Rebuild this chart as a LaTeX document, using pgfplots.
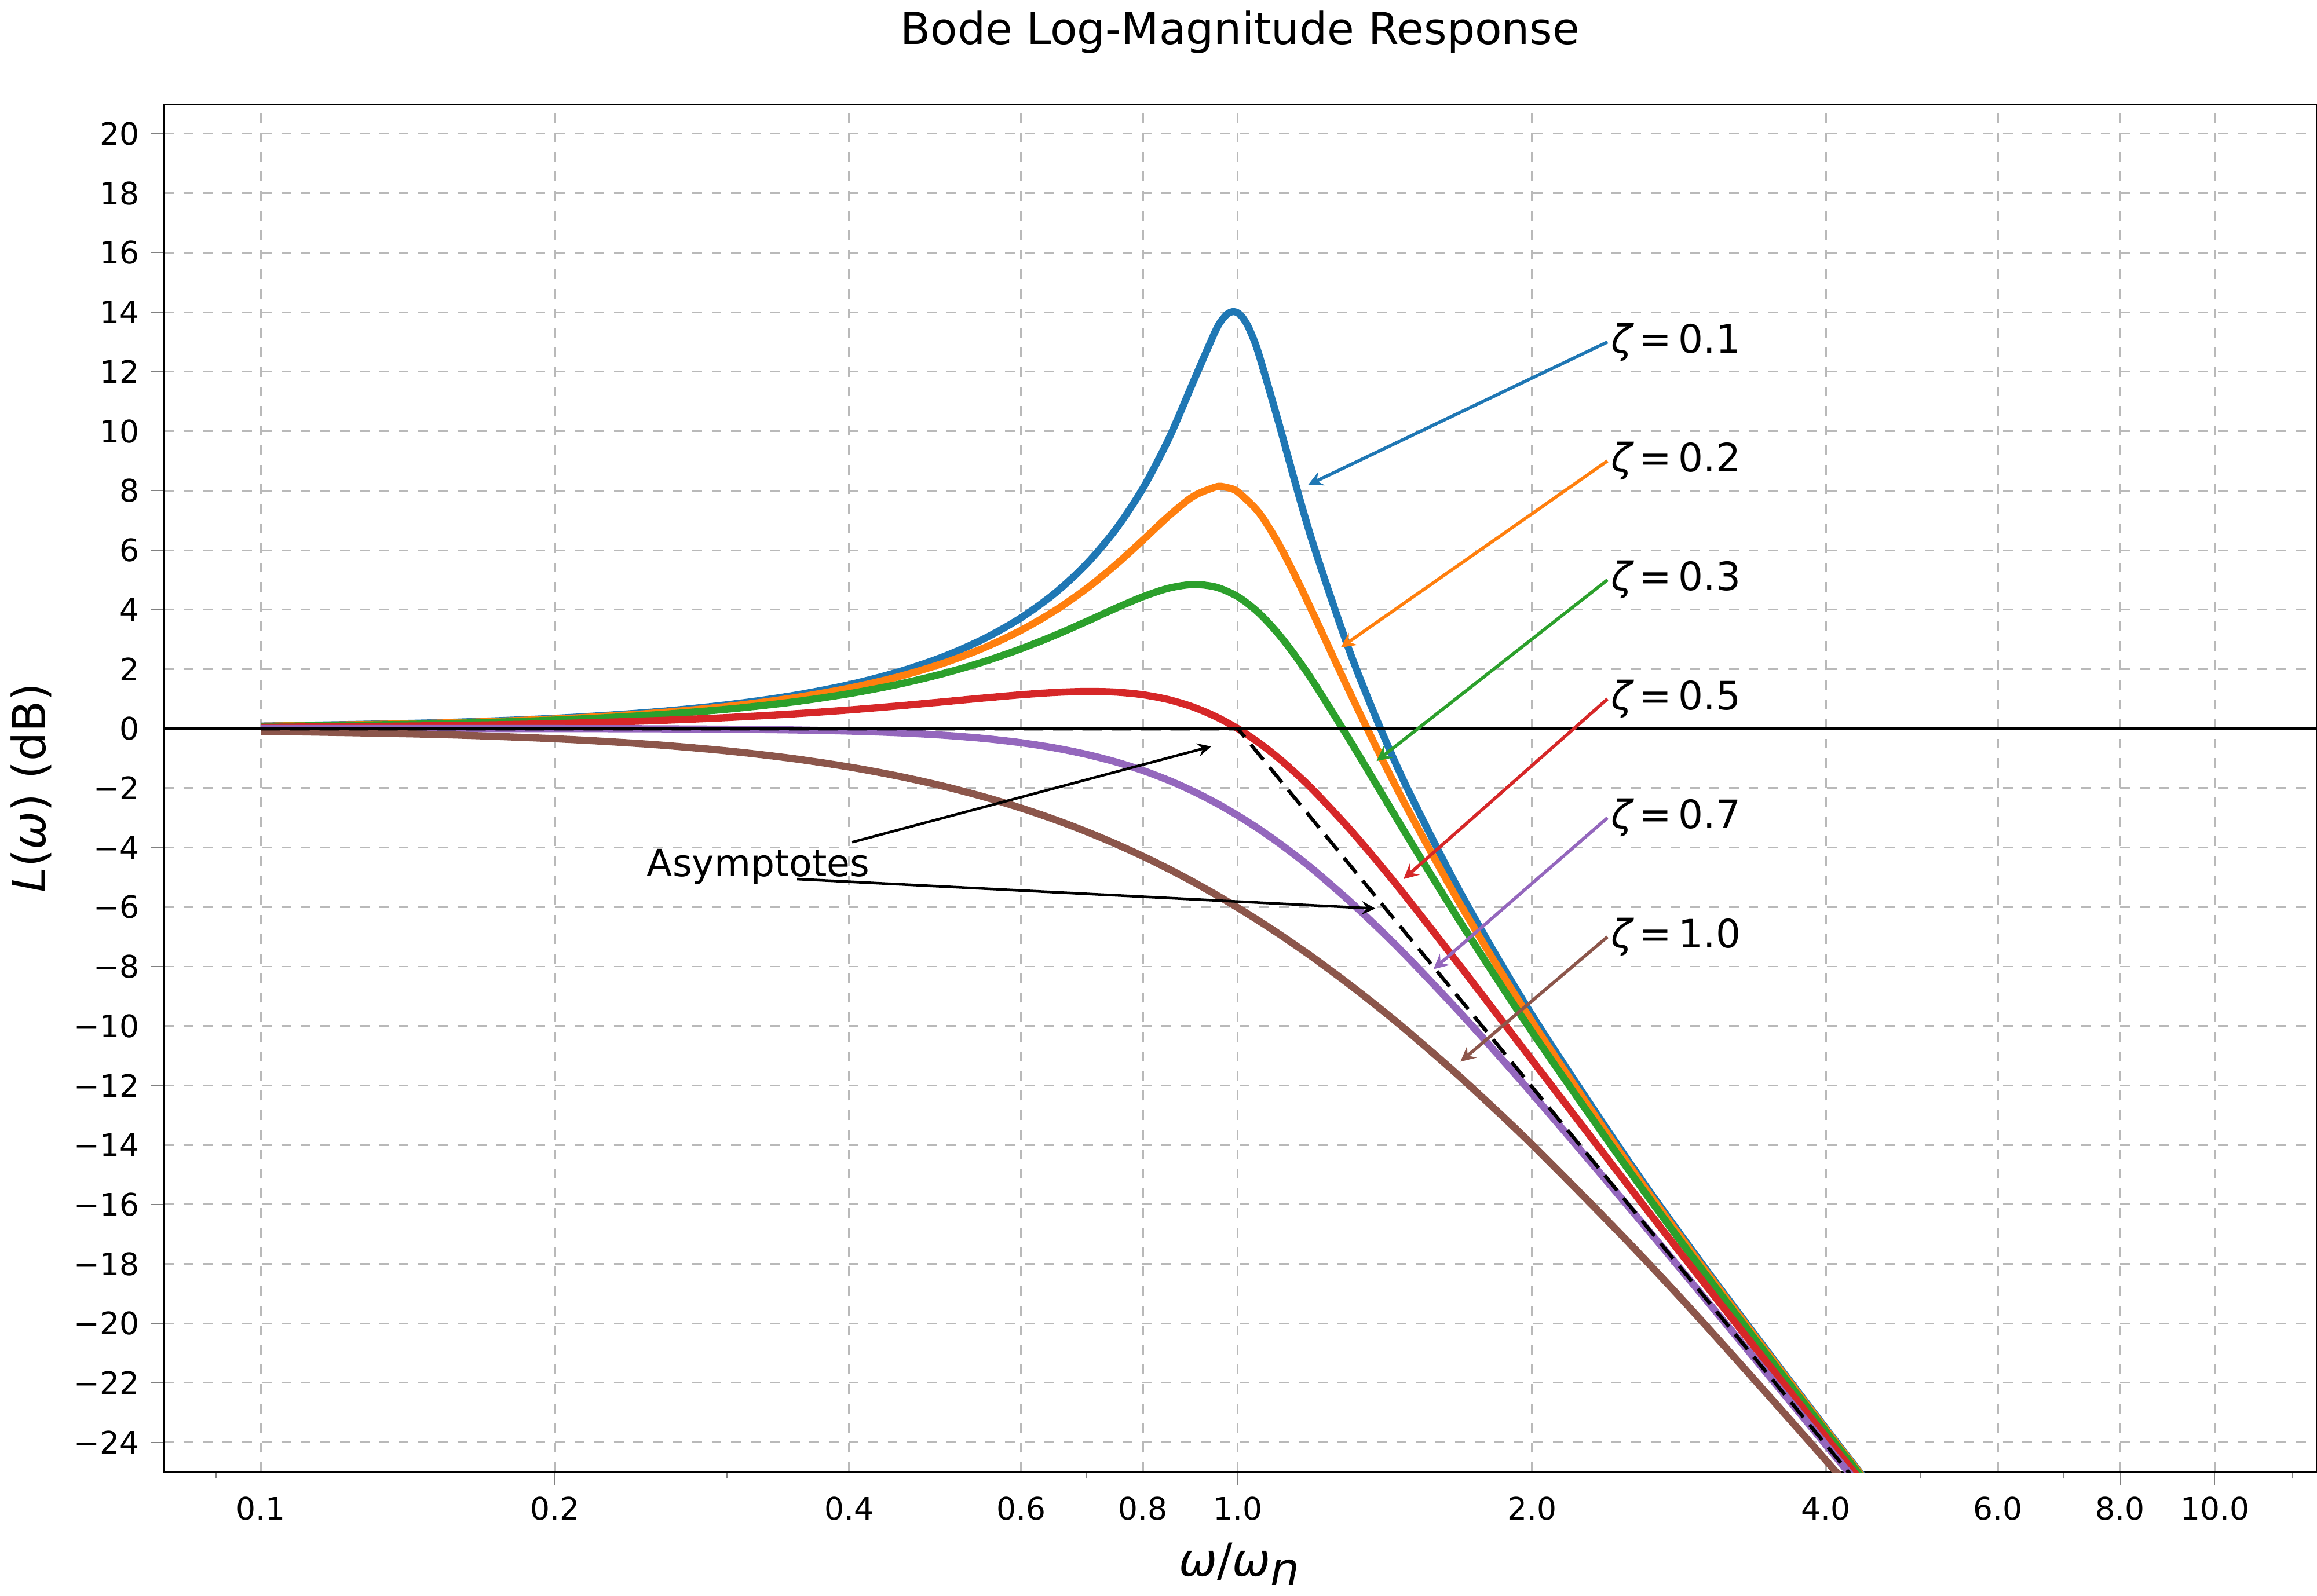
\documentclass[border=0pt]{standalone}
\usepackage{pgfplots}
\pgfplotsset{compat=1.18}
\usepackage{fontspec}
\setmainfont{DejaVu Sans}
\setsansfont{DejaVu Sans}
\definecolor{c1}{HTML}{1F77B4}
\definecolor{c2}{HTML}{FF7F0E}
\definecolor{c3}{HTML}{2CA02C}
\definecolor{c4}{HTML}{D62728}
\definecolor{c5}{HTML}{9467BD}
\definecolor{c6}{HTML}{8C564B}
\newcommand{\zl}[1]{{\itshape ζ}\,=\,#1}
\begin{document}
\begin{tikzpicture}
\begin{axis}[
  scale only axis, width=23.2cm, height=14.75cm,
  xmode=log, xmin=0.0796, xmax=12.7, ymin=-25, ymax=21,
  xtick={0.1,0.2,0.4,0.6,0.8,1,2,4,6,8,10},
  xticklabels={0.1,0.2,0.4,0.6,0.8,1.0,2.0,4.0,6.0,8.0,10.0},
  minor xtick={0.08,0.09,0.3,0.5,0.7,0.9,3,5,7,9,12},
  ytick={-24,-22,...,20},
  yticklabels={−24,−22,−20,−18,−16,−14,−12,−10,−8,−6,−4,−2,0,2,4,6,8,10,12,14,16,18,20},
  /pgf/number format/assume math mode=true,
  ticklabel style={font=\fontsize{9.5}{11}\selectfont},
  grid=major, grid style={dashed, gray!55, line width=0.5pt},
  major tick length=4pt, minor tick length=2pt,
  tick align=outside, tick pos=left,
  xlabel={{\itshape ω}/{\itshape ω}$_{\textit{n}}$}, ylabel={{\itshape L}({\itshape ω}) (dB)},
  label style={font=\fontsize{14}{17}\selectfont},
  title={Bode Log-Magnitude Response},
  title style={font=\fontsize{13.5}{16}\selectfont, yshift=6pt},
  every axis plot/.append style={line width=2.2pt, smooth},
]
\addplot[c1] coordinates {(0.1,0.0855)(0.15,0.194)(0.2,0.347)(0.25,0.548)(0.3,0.800)(0.35,1.107)(0.4,1.475)(0.45,1.911)(0.5,2.422)(0.55,3.022)(0.6,3.726)(0.65,4.554)(0.7,5.533)(0.75,6.698)(0.8,8.091)(0.85,9.750)(0.9,11.643)(0.95,13.410)(0.97,13.859)(0.98,13.981)(0.99,14.023)(1.0,13.979)(1.01,13.850)(1.02,13.640)(1.03,13.359)(1.05,12.627)(1.1,10.339)(1.15,8.044)(1.2,6.000)(1.3,2.647)(1.4,0.0)(1.5,-2.181)(1.7,-5.667)(2.0,-9.619)(2.5,-14.443)(3.0,-18.086)(4.0,-23.534)(5.0,-27.612)};
\addplot[c2] coordinates {(0.1,0.0802)(0.15,0.181)(0.2,0.325)(0.25,0.511)(0.3,0.744)(0.35,1.026)(0.4,1.359)(0.45,1.749)(0.5,2.201)(0.55,2.717)(0.6,3.305)(0.65,3.967)(0.7,4.704)(0.75,5.507)(0.8,6.345)(0.85,7.153)(0.9,7.806)(0.95,8.127)(0.97,8.124)(0.98,8.090)(1.0,7.959)(1.05,7.284)(1.1,6.240)(1.15,5.008)(1.2,3.726)(1.3,1.270)(1.4,-0.917)(1.5,-2.839)(1.7,-6.058)(2.0,-9.841)(2.5,-14.558)(3.0,-18.158)(4.0,-23.571)(5.0,-27.634)};
\addplot[c3] coordinates {(0.1,0.0714)(0.15,0.161)(0.2,0.287)(0.25,0.451)(0.3,0.652)(0.35,0.893)(0.4,1.174)(0.45,1.494)(0.5,1.854)(0.55,2.252)(0.6,2.683)(0.65,3.137)(0.7,3.600)(0.75,4.046)(0.8,4.437)(0.85,4.722)(0.9,4.845)(0.95,4.757)(1.0,4.437)(1.05,3.900)(1.1,3.190)(1.15,2.365)(1.2,1.475)(1.3,-0.352)(1.4,-2.114)(1.5,-3.752)(1.7,-6.640)(2.0,-10.187)(2.5,-14.744)(3.0,-18.276)(4.0,-23.632)(5.0,-27.672)};
\addplot[c4] coordinates {(0.1,0.0432)(0.15,0.0966)(0.2,0.170)(0.25,0.262)(0.3,0.371)(0.35,0.494)(0.4,0.627)(0.45,0.765)(0.5,0.902)(0.55,1.029)(0.6,1.137)(0.65,1.215)(0.7,1.249)(0.75,1.227)(0.8,1.137)(0.85,0.972)(0.9,0.726)(0.95,0.400)(1.0,0)(1.05,-0.465)(1.1,-0.983)(1.15,-1.543)(1.2,-2.131)(1.3,-3.357)(1.4,-4.596)(1.5,-5.812)(1.7,-8.104)(2.0,-11.139)(2.5,-15.291)(3.0,-18.633)(4.0,-23.820)(5.0,-27.789)};
\addplot[c5] coordinates {(0.1,0.0013)(0.15,0.0017)(0.2,0)(0.25,-0.0061)(0.3,-0.0195)(0.35,-0.0437)(0.4,-0.0826)(0.45,-0.141)(0.5,-0.222)(0.55,-0.332)(0.6,-0.474)(0.65,-0.651)(0.7,-0.866)(0.75,-1.119)(0.8,-1.411)(0.85,-1.741)(0.9,-2.105)(0.95,-2.500)(1.0,-2.923)(1.05,-3.367)(1.1,-3.830)(1.15,-4.307)(1.2,-4.794)(1.3,-5.785)(1.4,-6.779)(1.5,-7.762)(1.7,-9.655)(2.0,-12.263)(2.5,-16.000)(3.0,-19.119)(4.0,-24.088)(5.0,-27.959)};
\addplot[c6] coordinates {(0.1,-0.0864)(0.15,-0.193)(0.2,-0.341)(0.25,-0.527)(0.3,-0.749)(0.35,-1.004)(0.4,-1.289)(0.45,-1.602)(0.5,-1.938)(0.55,-2.296)(0.6,-2.671)(0.65,-3.061)(0.7,-3.464)(0.75,-3.876)(0.8,-4.296)(0.85,-4.722)(0.9,-5.153)(0.95,-5.587)(1.0,-6.021)(1.05,-6.455)(1.1,-6.888)(1.15,-7.320)(1.2,-7.748)(1.3,-8.595)(1.4,-9.426)(1.5,-10.238)(1.7,-11.799)(2.0,-13.979)(2.5,-17.207)(3.0,-20)(4.0,-24.609)(5.0,-28.299)};
\addplot[black, line width=1.1pt, sharp plot] coordinates {(0.0796,0)(12.7,0)};
\addplot[black, dash pattern=on 6pt off 3pt, line width=1.1pt, sharp plot] coordinates {(0.1,0)(1,0)(5,-27.959)};
\draw[-stealth, c1, line width=1pt] (axis cs:2.39,13) -- (axis cs:1.18,8.19);
\draw[-stealth, c2, line width=1pt] (axis cs:2.39,9) -- (axis cs:1.275,2.73);
\draw[-stealth, c3, line width=1pt] (axis cs:2.39,5) -- (axis cs:1.387,-1.09);
\draw[-stealth, c4, line width=1pt] (axis cs:2.39,1) -- (axis cs:1.478,-5.06);
\draw[-stealth, c5, line width=1pt] (axis cs:2.39,-3) -- (axis cs:1.586,-8.09);
\draw[-stealth, c6, line width=1pt] (axis cs:2.39,-7) -- (axis cs:1.69,-11.2);
\node[anchor=west, inner sep=1pt, font=\fontsize{12}{14}\selectfont] at (axis cs:2.39,13) {\zl{0.1}};
\node[anchor=west, inner sep=1pt, font=\fontsize{12}{14}\selectfont] at (axis cs:2.39,9) {\zl{0.2}};
\node[anchor=west, inner sep=1pt, font=\fontsize{12}{14}\selectfont] at (axis cs:2.39,5) {\zl{0.3}};
\node[anchor=west, inner sep=1pt, font=\fontsize{12}{14}\selectfont] at (axis cs:2.39,1) {\zl{0.5}};
\node[anchor=west, inner sep=1pt, font=\fontsize{12}{14}\selectfont] at (axis cs:2.39,-3) {\zl{0.7}};
\node[anchor=west, inner sep=1pt, font=\fontsize{12}{14}\selectfont] at (axis cs:2.39,-7) {\zl{1.0}};
\node[font=\fontsize{11.5}{14}\selectfont] at (axis cs:0.323,-4.65) {Asymptotes};
\draw[-stealth, black, line width=0.8pt] (axis cs:0.403,-3.82) -- (axis cs:0.939,-0.6);
\draw[-stealth, black, line width=0.8pt] (axis cs:0.354,-5.06) -- (axis cs:1.383,-6.05);
\end{axis}
\end{tikzpicture}
\end{document}
